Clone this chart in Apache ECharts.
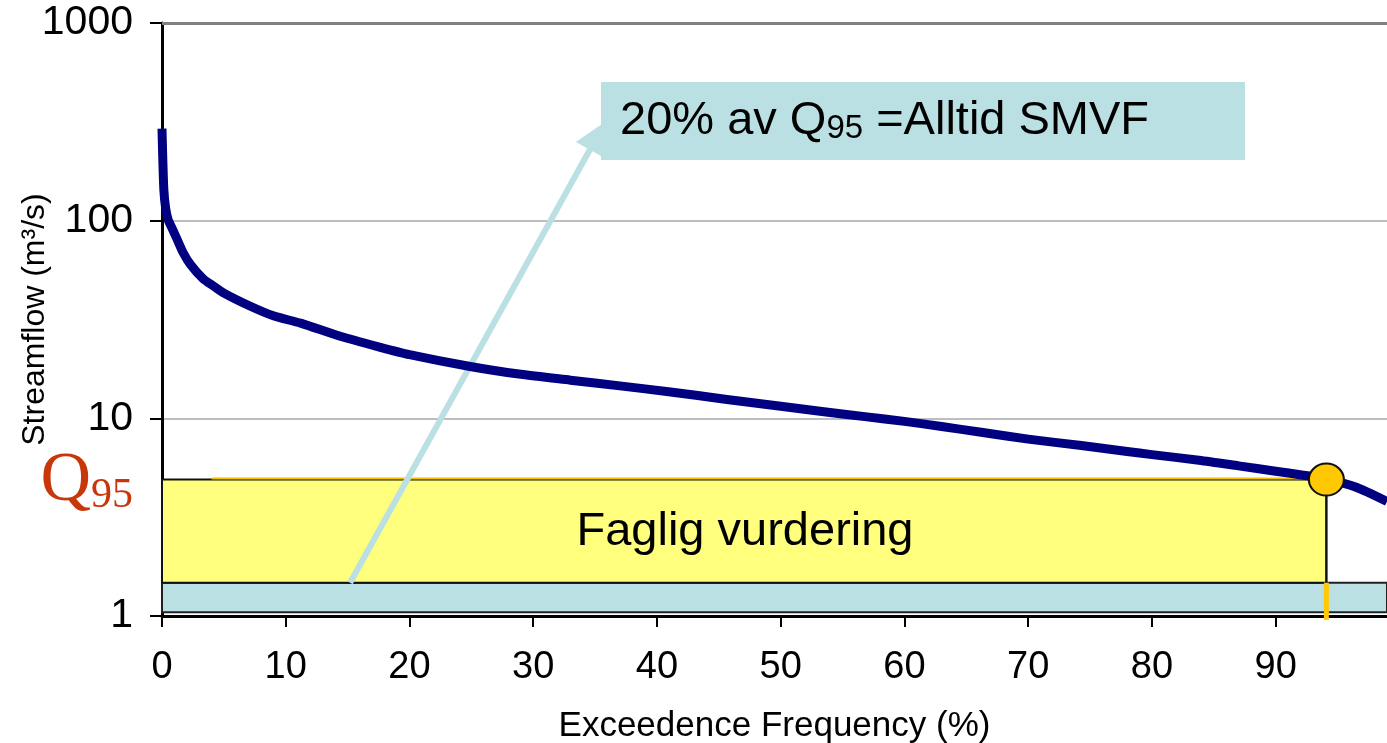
<!DOCTYPE html>
<html>
<head>
<meta charset="utf-8">
<script src="https://cdn.jsdelivr.net/npm/echarts@6/dist/echarts.min.js"></script>
<style>
html,body{margin:0;padding:0;background:#fff;}
#chart{width:1387px;height:743px;}
</style>
</head>
<body>
<div id="chart"></div>
<script>
// ---- data ----
const exceedance = [0, 0.05, 0.15, 0.3, 0.5, 0.8, 1.2, 1.7, 2.3, 3.3, 4.2, 5.0, 7.1, 9.0, 11.2, 14.4, 17.5, 20, 24.9, 29, 33, 37, 41.1, 45.5, 50, 53.5, 56.8, 60, 63, 66.2, 70, 74.3, 78, 80, 83.8, 87, 90, 92.1, 94.1, 96.4, 99];
const streamflow = [292, 220, 143, 115, 101, 92, 81, 69, 60, 51, 46.5, 43, 37, 33, 30.3, 26, 23, 21, 18.3, 16.7, 15.6, 14.6, 13.6, 12.5, 11.5, 10.8, 10.2, 9.65, 9.1, 8.5, 7.85, 7.28, 6.8, 6.55, 6.14, 5.75, 5.4, 5.17, 4.93, 4.51, 3.8];
const xTickLabels = [0, 10, 20, 30, 40, 50, 60, 70, 80, 90];
const yTickLabels = [1, 10, 100, 1000];
const xMax = 99;
const q95 = 4.9;          // Q95 streamflow
const q95Freq = 94.1;     // exceedance of Q95
const smvfLow = 1.044;    // lower edge of teal band
const smvfHigh = 1.474;   // 20% of Q95 band top / yellow bottom
const goldLine = [[4, 4.96], [93, 4.96]];
const arrowFrom = [15.2, 1.474];
const arrowTo = [35.2, 269];
const stemBottom = 0.955;

const FONT = "'Liberation Sans', Arial, sans-serif";
const SERIF = "'Liberation Serif', 'Times New Roman', serif";
const TEAL = '#BBE0E3';
const YELLOW = '#FFFF7D';
const GOLD = '#FFC800';

const flowData = exceedance.map((x, i) => [x, streamflow[i]]);

const chart = echarts.init(document.getElementById('chart'), null, {renderer: 'canvas'});
chart.setOption({
  animation: false,
  backgroundColor: '#fff',
  grid: {left: 162, right: 0, top: 23, bottom: 127, containLabel: false, outerBoundsMode: 'none'},
  xAxis: {
    type: 'value', min: 0, max: xMax, interval: 10,
    name: 'Exceedence Frequency (%)', nameLocation: 'middle', nameGap: 93,
    nameTextStyle: {fontFamily: FONT, fontSize: 35, color: '#000'},
    axisLine: {show: true, onZero: false, lineStyle: {color: '#000', width: 3}},
    axisTick: {show: true, length: 11, lineStyle: {color: '#000', width: 2}, customValues: xTickLabels},
    axisLabel: {fontFamily: FONT, fontSize: 38, color: '#000', margin: 33, customValues: xTickLabels},
    splitLine: {show: false}
  },
  yAxis: {
    type: 'log', logBase: 10, min: 1, max: 1000,
    name: 'Streamflow (m³/s)', nameLocation: 'middle', nameGap: 111, nameRotate: 90,
    nameMoveOverlap: false,
    nameTextStyle: {fontFamily: FONT, fontSize: 32, color: '#000'},
    axisLine: {show: true, lineStyle: {color: '#000', width: 3}},
    axisTick: {show: true, length: 12, lineStyle: {color: '#000', width: 2}},
    axisLabel: {fontFamily: FONT, fontSize: 41, color: '#000', margin: 29,
      formatter: v => yTickLabels.includes(Math.round(v)) ? String(Math.round(v)) : ''},
    splitLine: {show: true, lineStyle: {color: '#A8A8A8', width: 1.5}}
  },
  series: [
    {
      type: 'line', data: [], silent: true, z: 1,
      markArea: {
        silent: true,
        label: {show: false},
        data: [
          [{xAxis: 0, yAxis: smvfLow, itemStyle: {color: TEAL, borderColor: '#222', borderWidth: 2}},
           {xAxis: xMax, yAxis: smvfHigh}],
          [{xAxis: 0, yAxis: smvfHigh, itemStyle: {color: YELLOW, borderColor: '#111', borderWidth: 2}},
           {xAxis: q95Freq, yAxis: q95}]
        ]
      },
      markLine: {
        silent: true, symbol: ['none', 'none'], label: {show: false},
        lineStyle: {color: '#808080', width: 3, type: 'solid'},
        data: [{yAxis: 1000}]
      }
    },
    {
      type: 'line', data: goldLine, silent: true, z: 2, showSymbol: false, symbol: 'none',
      lineStyle: {color: '#F2C200', width: 2}
    },
    {
      type: 'line', data: flowData, silent: true, z: 5, showSymbol: false, symbol: 'none',
      smooth: 0.25,
      lineStyle: {color: '#000080', width: 9, cap: 'butt', join: 'round'}
    },
    {
      type: 'line', data: [[q95Freq, q95], [q95Freq, smvfHigh]], silent: true, z: 6,
      showSymbol: false, symbol: 'none', lineStyle: {color: '#111', width: 2}
    },
    {
      type: 'line', data: [[q95Freq, smvfHigh], [q95Freq, stemBottom]], silent: true, z: 6, clip: false,
      showSymbol: false, symbol: 'none', lineStyle: {color: GOLD, width: 5}
    },
    {
      type: 'line', data: [], silent: true, z: 7,
      markLine: {
        silent: true, symbol: ['none', 'triangle'], symbolSize: 32, label: {show: false},
        lineStyle: {color: TEAL, width: 6, type: 'solid', opacity: 1},
        itemStyle: {color: TEAL},
        data: [[{coord: arrowFrom}, {coord: arrowTo}]]
      }
    },
    {
      type: 'scatter', data: [[q95Freq, q95]], silent: true, z: 10, clip: false,
      symbol: 'circle', symbolSize: [35, 32],
      itemStyle: {color: GOLD, borderColor: '#111', borderWidth: 2, opacity: 1}
    }
  ],
  graphic: [
    {type: 'rect', shape: {x: 601, y: 82, width: 644, height: 78}, style: {fill: TEAL}, z: 20},
    {type: 'text', x: 620, y: 121, z: 21, style: {
      text: '{a|20% av Q}{b|95}{a| =Alltid SMVF}',
      align: 'left', verticalAlign: 'middle', fill: '#000',
      rich: {
        a: {fontFamily: FONT, fontSize: 47, lineHeight: 48, fill: '#000'},
        b: {fontFamily: FONT, fontSize: 33, lineHeight: 8, verticalAlign: 'bottom', fill: '#000'}
      }
    }},
    {type: 'text', x: 745, y: 532, z: 21, style: {
      text: 'Faglig vurdering', align: 'center', verticalAlign: 'middle',
      fontFamily: FONT, fontSize: 47, fill: '#000'
    }},
    {type: 'text', x: 133, y: 482, z: 21, style: {
      text: '{q|Q}{s|95}', align: 'right', verticalAlign: 'middle',
      rich: {
        q: {fontFamily: SERIF, fontSize: 70, lineHeight: 70, fill: '#C8370A'},
        s: {fontFamily: SERIF, fontSize: 42, lineHeight: 24, verticalAlign: 'bottom', fill: '#C8370A'}
      }
    }}
  ]
});
</script>
</body>
</html>
